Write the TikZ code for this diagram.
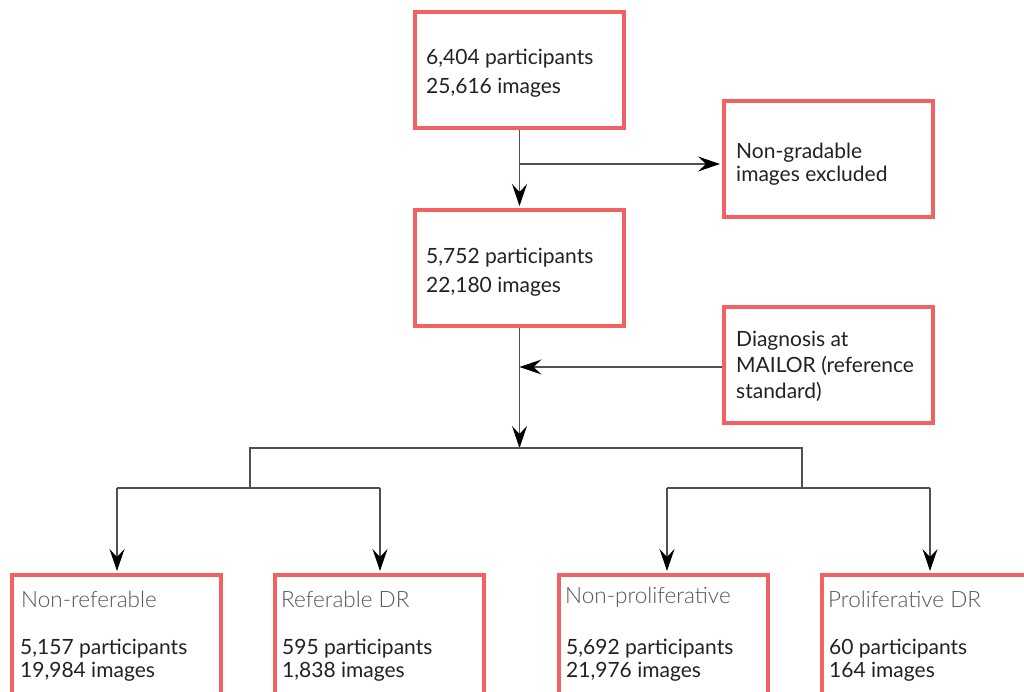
\documentclass[tikz,border=0pt]{standalone}
\usepackage{fontspec}
\setmainfont{Lato}
\newfontfamily\lightfont{Lato Light}
\usetikzlibrary{arrows.meta}
\definecolor{boxred}{RGB}{242,98,98}
\definecolor{txt}{RGB}{34,34,34}
\definecolor{ttl}{RGB}{85,85,85}
\definecolor{ln}{RGB}{80,80,80}
\tikzset{
  box/.style={draw=boxred, line width=4pt, minimum width=209pt, minimum height=116pt, inner sep=0pt, fill=white},
  boxtext/.style={anchor=west, align=left, inner sep=0pt, text=txt, font=\fontsize{21}{29}\selectfont},
  ttltext/.style={anchor=west, inner sep=0pt, text=ttl, font=\lightfont\fontsize{22.5}{24}\selectfont},
  numtext/.style={boxtext, font=\fontsize{21}{23}\selectfont},
  conn/.style={draw=ln, line width=1.3pt, miter limit=10},
  arr/.style={conn, shorten >=2pt, -{Stealth[length=22pt, width=15pt, inset=8pt, color=black]}},
}
\begin{document}
\begin{tikzpicture}[x=1pt, y=-1pt]
\useasboundingbox (0,0) rectangle (1024,692);
\clip (0,0) rectangle (1024,692);
% boxes
\node[box] (b1) at (519.5,70) {};
\node[boxtext] (t1) at (426,73) {6,404 participants\\25,616 images};
\node[box] (ng) at (828.5,159.5) {};
\node[boxtext, font=\fontsize{21}{23}\selectfont] (tng) at (736,164.5) {Non-gradable\\images excluded};
\node[box] (b2) at (519.5,268) {};
\node[boxtext] (t2) at (426,272.5) {5,752 participants\\22,180 images};
\node[box] (dg) at (828.5,364.5) {};
\node[boxtext, font=\fontsize{21}{26}\selectfont] (tdg) at (736,366) {Diagnosis at\\MAILOR (reference\\standard)};
% bottom boxes
\node[box, minimum height=150pt] (ba) at (116,650) {};
\node[ttltext] (bat) at (21,599) {Non-referable};
\node[numtext] (ban) at (20,660.5) {5,157 participants\\19,984 images};
\node[box, minimum height=150pt] (bb) at (379,650) {};
\node[ttltext] (bbt) at (281,599) {Referable DR};
\node[numtext] (bbn) at (282,660.5) {595 participants\\1,838 images};
\node[box, minimum height=150pt] (bc) at (663.5,650) {};
\node[ttltext] (bct) at (565,597) {Non-proliferative};
\node[numtext] (bcn) at (566,660.5) {5,692 participants\\21,976 images};
\node[box, minimum height=150pt] (bd) at (926.5,650) {};
\node[ttltext] (bdt) at (828,599) {Proliferative DR};
\node[numtext] (bdn) at (829,660.5) {60 participants\\164 images};
% connectors
\coordinate (j1) at (519.5,164);
\coordinate (j2) at (519.5,367);
\coordinate (j3) at (519.5,448);
\coordinate (hl) at (250,448);
\coordinate (hr) at (802,448);
\coordinate (ll) at (250,488);
\coordinate (rr) at (802,488);
\coordinate (lla) at (117,488);
\coordinate (llb) at (380,488);
\coordinate (rra) at (667,488);
\coordinate (rrb) at (930,488);
\draw[arr] (b1.south) -- (b2.north);
\draw[arr] (j1) -- (j1 -| ng.west);
\draw[arr, shorten >=0pt] (dg.west |- j2) -- (j2);
\draw[arr, shorten >=0pt] (b2.south) -- (j3);
\draw[conn] (ll) -- (hl) -- (hr) -- (rr);
\draw[conn] (lla) -- (llb);
\draw[conn] (rra) -- (rrb);
\draw[arr] (lla) -- (lla |- ba.north);
\draw[arr] (llb) -- (llb |- bb.north);
\draw[arr] (rra) -- (rra |- bc.north);
\draw[arr] (rrb) -- (rrb |- bd.north);
\end{tikzpicture}
\end{document}
